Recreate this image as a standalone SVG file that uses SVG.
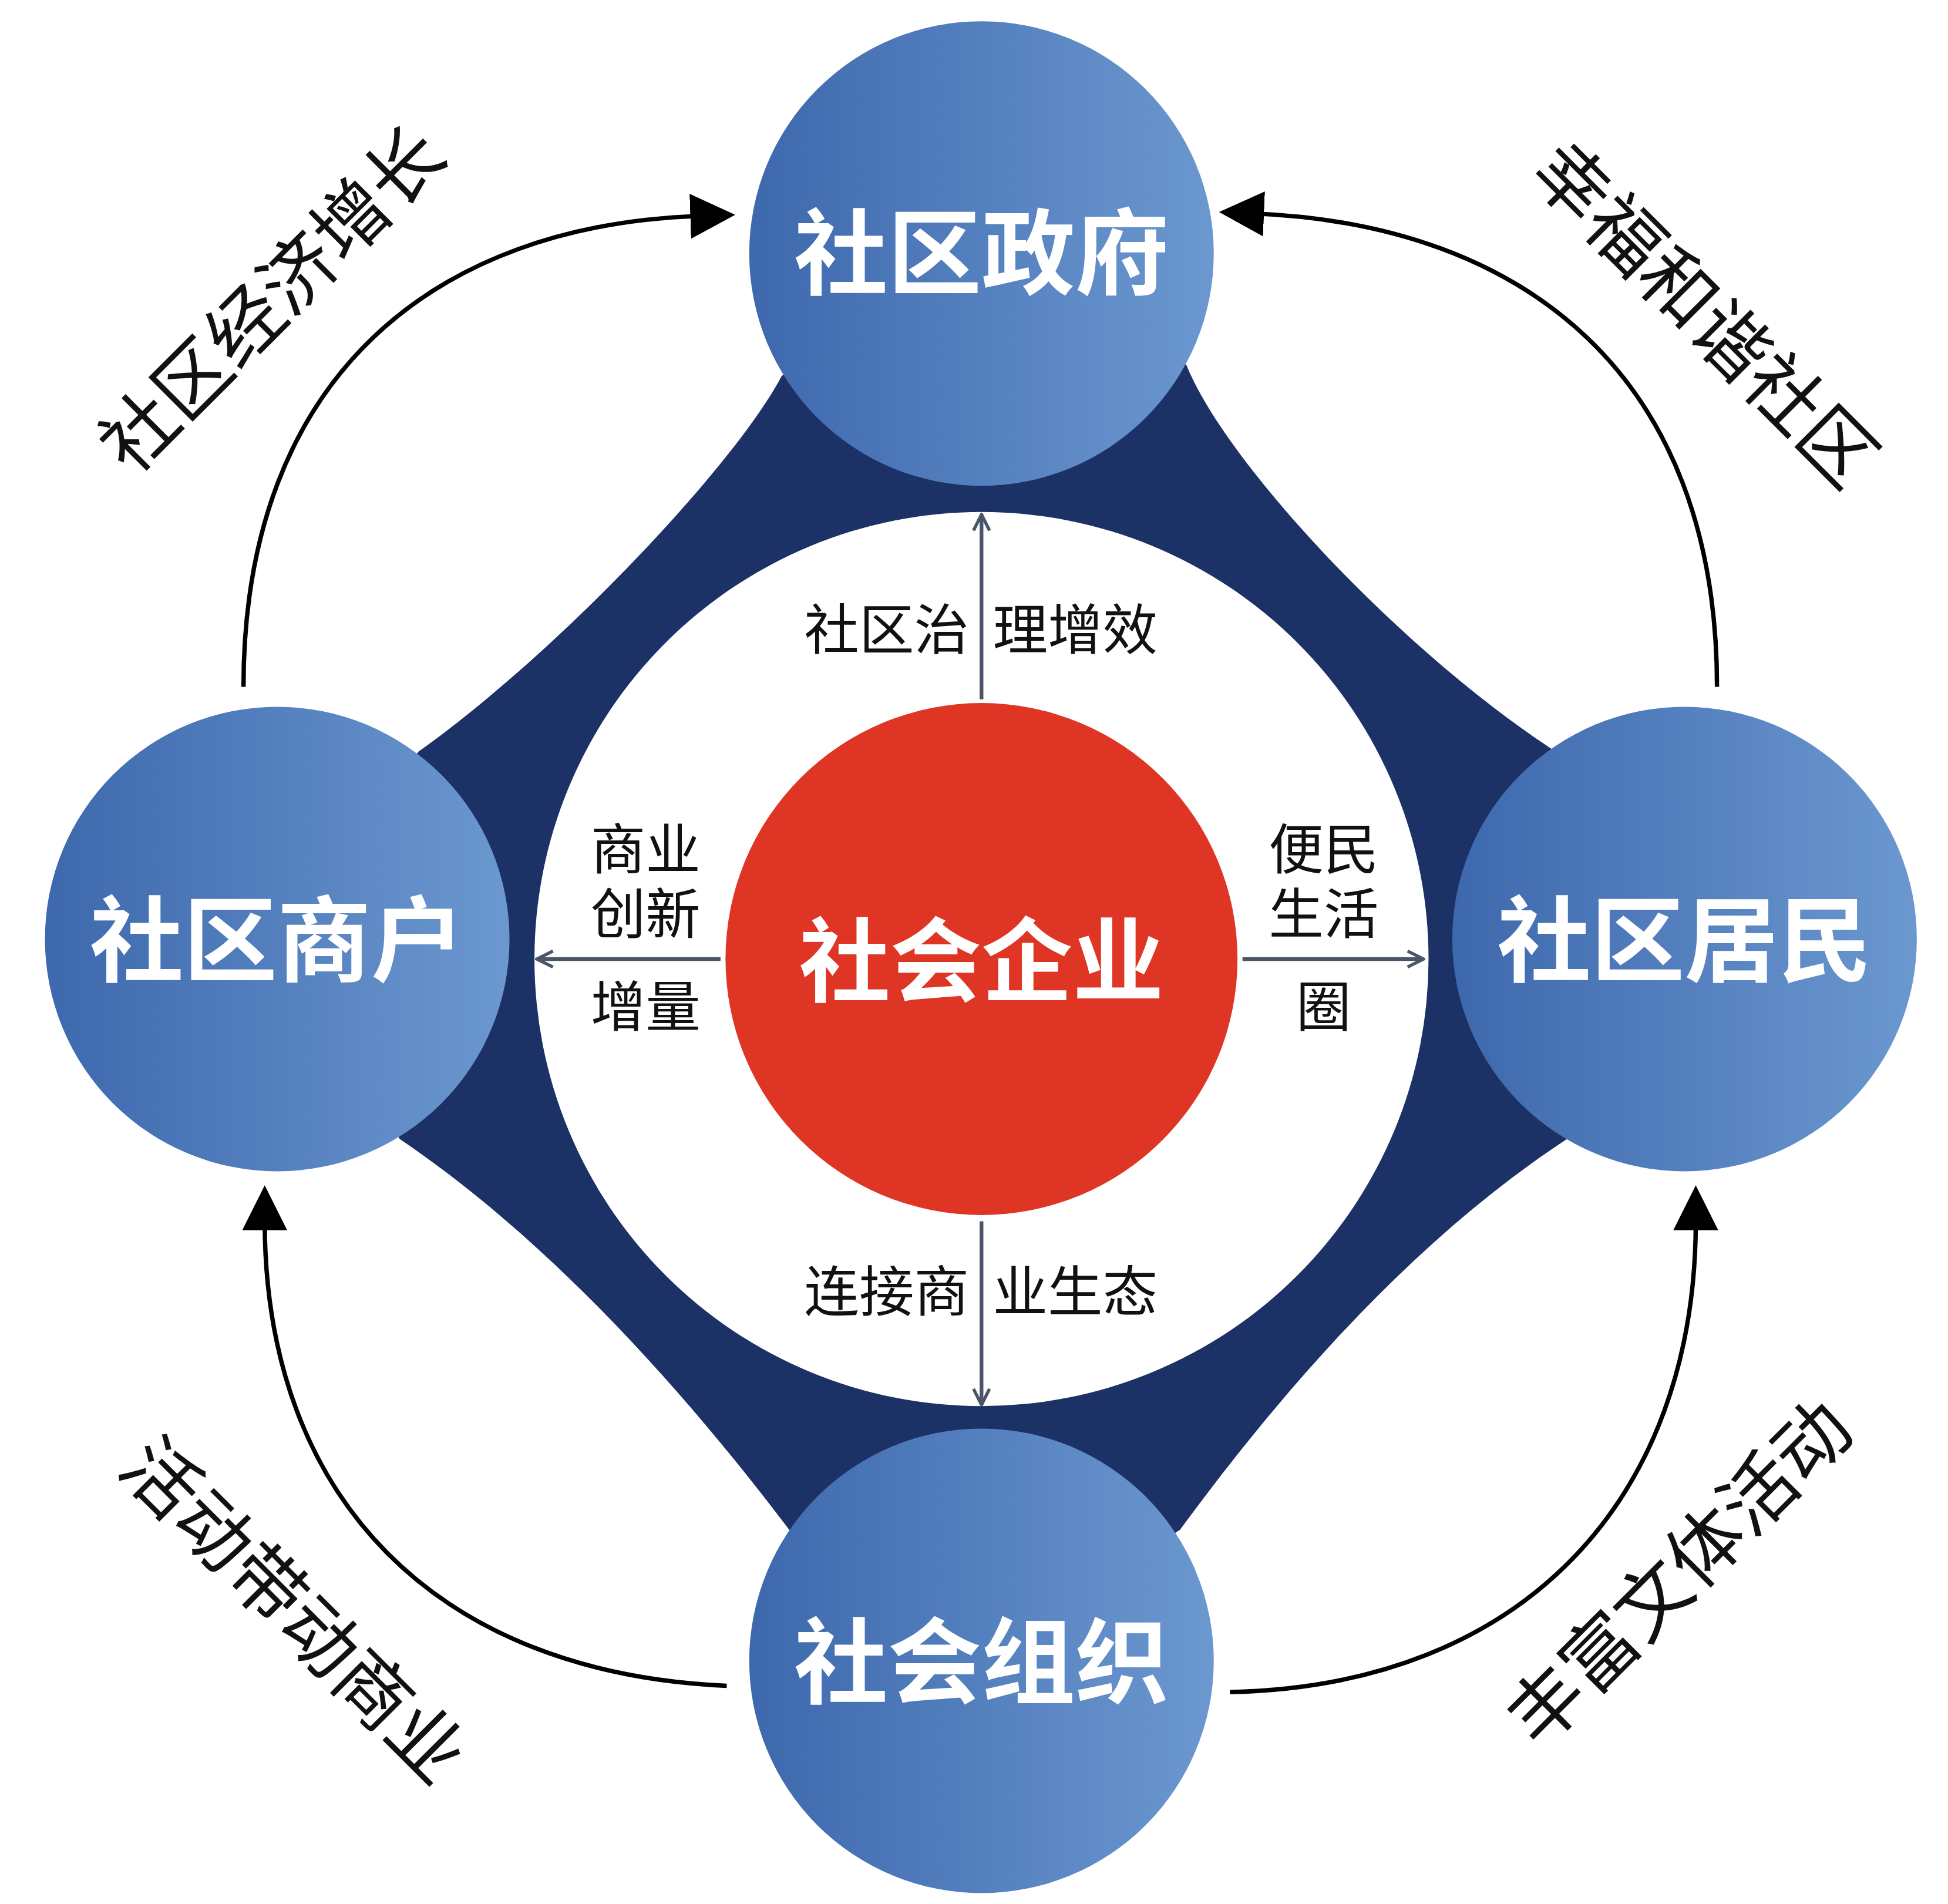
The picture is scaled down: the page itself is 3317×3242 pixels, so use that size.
<svg xmlns="http://www.w3.org/2000/svg" width="3317" height="3242" viewBox="0 0 3317 3242">
<defs>
<linearGradient id="bg" x1="0" y1="0" x2="1" y2="0"><stop offset="0" stop-color="#3D68AD"/><stop offset="1" stop-color="#6C98D0"/></linearGradient>
<marker id="tri" viewBox="0 0 10 10" refX="2" refY="5" markerWidth="36" markerHeight="36" markerUnits="userSpaceOnUse" orient="auto"><path d="M0,0 L10,5 L0,10 z" fill="#000"/></marker>
<marker id="chev" viewBox="0 0 10 10" refX="9" refY="5" markerWidth="16" markerHeight="16" markerUnits="userSpaceOnUse" orient="auto"><path d="M1,1 L9,5 L1,9" fill="none" stroke="#4A5568" stroke-width="1.6"/></marker>
<style>
.big{font-family:"Noto Sans CJK SC",sans-serif;font-weight:bold;fill:#fff;text-anchor:middle}
.lab{font-family:"Noto Sans CJK SC",sans-serif;font-size:44px;fill:#111}
.arc{font-family:"Noto Sans CJK SC",sans-serif;font-size:60px;fill:#111;text-anchor:middle}
.oa{fill:none;stroke:#000;stroke-width:3.5;marker-end:url(#tri)}
.ia{fill:none;stroke:#4A5568;stroke-width:3;marker-end:url(#chev)}
</style>
</defs>
<g transform="scale(2.1263)">
<g id="band"><path d="M786,203 L626,301 C590,370 450,520 335,602 L222,752 L320,912 C450,1000 560,1130 632,1225 L786,1330 L945,1225 C1015,1130 1121,1000 1255,912 L1349,752 L1243,600 C1121,520 981,370 950,292 Z" fill="#1C3166"/></g>
<g id="ring"><circle cx="786" cy="768" r="358" fill="#fff"/></g>
<g id="connectors">
<path class="oa" d="M195,550 C195,300 350,180 560,173"/>
<path class="oa" d="M1375,550 C1375,300 1220,180 1005,171"/>
<path class="oa" d="M582,1350 C350,1340 212,1200 212,978"/>
<path class="oa" d="M985,1355 C1220,1350 1358,1200 1358,978"/>
<path class="ia" d="M786,560 L786,412"/>
<path class="ia" d="M577,768 L430,768"/>
<path class="ia" d="M995,768 L1140,768"/>
<path class="ia" d="M786,978 L786,1125"/>
</g>
<g id="top"><circle cx="786" cy="203" r="186" fill="url(#bg)"/><text class="big" x="786" y="230" font-size="75">社区政府</text></g>
<g id="left"><circle cx="222" cy="752" r="186" fill="url(#bg)"/><text class="big" x="222" y="780" font-size="75">社区商户</text></g>
<g id="right"><circle cx="1349" cy="752" r="186" fill="url(#bg)"/><text class="big" x="1349" y="780" font-size="75">社区居民</text></g>
<g id="bottom"><circle cx="786" cy="1330" r="186" fill="url(#bg)"/><text class="big" x="786" y="1358" font-size="75">社会组织</text></g>
<g id="center"><circle cx="786" cy="768" r="205" fill="#DE3525"/><text class="big" x="786" y="796" font-size="73">社会企业</text></g>
<g id="labels">
<text class="lab" x="776" y="520" text-anchor="end">社区治</text>
<text class="lab" x="795" y="520">理增效</text>
<text class="lab" x="517" y="696" text-anchor="middle">商业</text>
<text class="lab" x="517" y="748" text-anchor="middle">创新</text>
<text class="lab" x="517" y="822" text-anchor="middle">增量</text>
<text class="lab" x="1060" y="696" text-anchor="middle">便民</text>
<text class="lab" x="1060" y="748" text-anchor="middle">生活</text>
<text class="lab" x="1060" y="822" text-anchor="middle">圈</text>
<text class="lab" x="776" y="1050" text-anchor="end">连接商</text>
<text class="lab" x="795" y="1050">业生态</text>
<text class="arc" transform="translate(218,240) rotate(-45)" y="21">社区经济增长</text>
<text class="arc" transform="translate(1365,252) rotate(45)" y="21">幸福和谐社区</text>
<text class="arc" transform="translate(235,1290) rotate(45)" y="21">活动带动商业</text>
<text class="arc" transform="translate(1345,1260) rotate(-45)" y="21">丰富文体活动</text>
</g>
</g>
</svg>
